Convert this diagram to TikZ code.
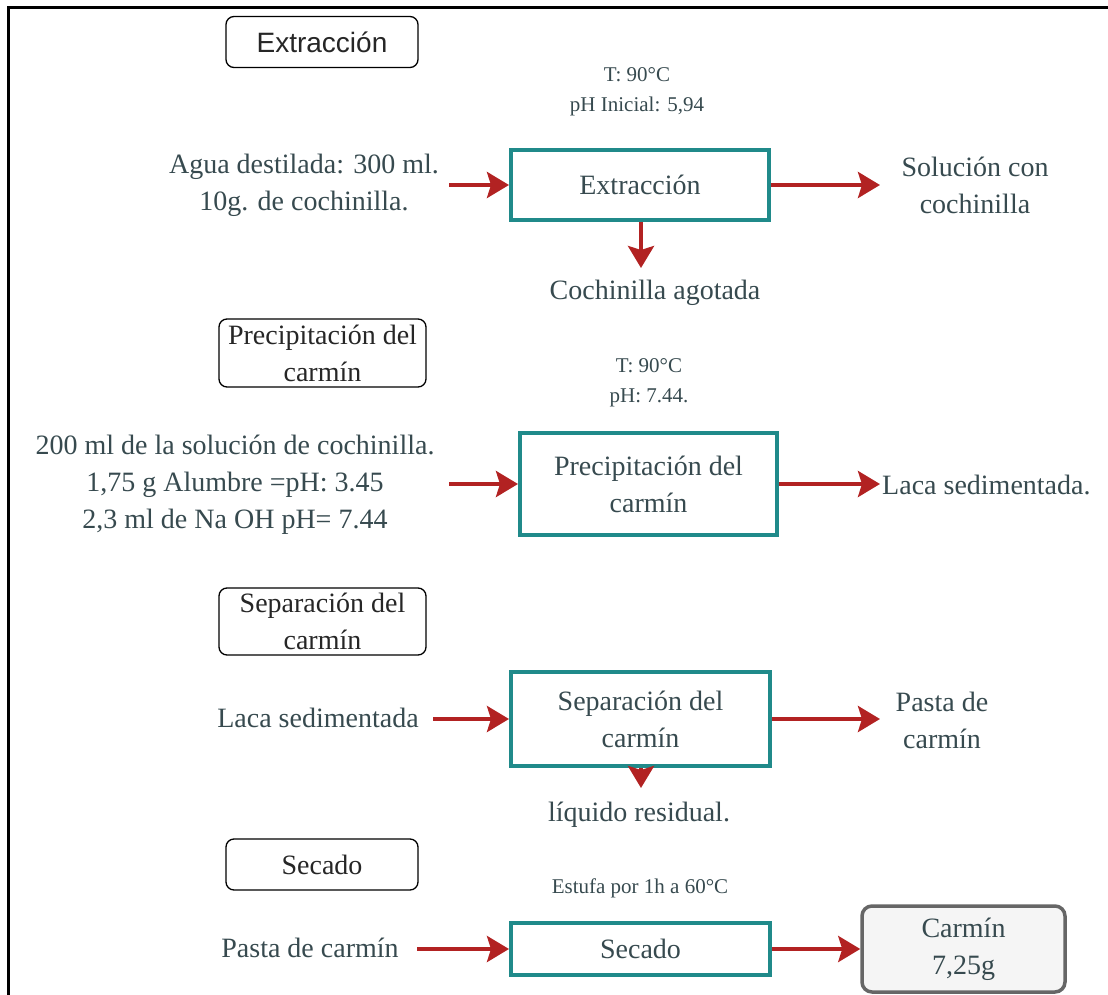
\documentclass[tikz,border=0pt]{standalone}
\usepackage{fontspec}
\setmainfont{Liberation Serif}
\newfontfamily\serifx{Liberation Serif}
\newfontfamily\sansf{Liberation Sans}
\usetikzlibrary{arrows.meta}
\definecolor{teal1}{HTML}{208A8A}
\definecolor{arrred}{HTML}{B22222}
\definecolor{txt}{HTML}{374A4F}
\definecolor{grayb}{HTML}{666666}
\definecolor{grayf}{HTML}{F5F5F5}
\tikzset{
  big/.style={font=\serifx\fontsize{28}{37}\selectfont},
  small/.style={font=\serifx\fontsize{21}{30}\selectfont},
  label/.style={big, text=txt, align=center, inner sep=0pt},
  note/.style={small, text=txt, align=center, inner sep=0pt},
  titlebox/.style={draw=black, line width=1.3pt, rounded corners=8pt, text=black!85, align=center, inner sep=0pt, big},
  procbox/.style={draw=teal1, line width=4pt, text=txt, align=center, inner sep=0pt, big},
  resultbox/.style={draw=grayb, fill=grayf, line width=3.5pt, rounded corners=10pt, text=txt, align=center, inner sep=0pt, big},
  arr/.style={draw=arrred, line width=4pt, -{Stealth[length=22pt,width=26pt,inset=4pt]}}
}
\begin{document}
\begin{tikzpicture}[x=1pt,y=1pt]
\useasboundingbox (0,0) rectangle (1108,-995);
\fill[white] (0,0) rectangle (1108,-995);
% frame (only top and left visible)
\draw[line width=3pt] (8,-1000) -- (8,-8) -- (1115,-8);

% section titles
\node[titlebox, minimum width=192pt, minimum height=51pt] (t1) at (322,-42) {\sansf Extracción};
\node[titlebox, minimum width=207pt, minimum height=68pt] (t2) at (322.5,-353) {Precipitación del\\carmín};
\node[titlebox, minimum width=207pt, minimum height=67pt] (t3) at (322.5,-621.5) {Separación del\\carmín};
\node[titlebox, minimum width=192pt, minimum height=51pt] (t4) at (322,-864.5) {Secado};

% process boxes
\node[procbox, minimum width=258pt, minimum height=70pt] (p1) at (640,-185) {Extracción};
\node[procbox, minimum width=257pt, minimum height=102pt] (p2) at (648.5,-484) {Precipitación del\\carmín};
\node[procbox, minimum width=259pt, minimum height=94pt] (p3) at (640.5,-719) {Separación del\\carmín};
\node[procbox, minimum width=259pt, minimum height=52pt] (p4) at (640.5,-949) {Secado};
\node[resultbox, minimum width=203pt, minimum height=86pt] (r) at (963.5,-949) {Carmín\\7,25g};

% notes
\node[note] (n1) at (637,-92) {T: 90°C\\pH Inicial: 5,94};
\node[note] (n2) at (649,-383) {T: 90°C\\pH: 7.44.};
\node[note] (n4) at (640,-888) {Estufa por 1h a 60°C};

% inputs
\node[label] (in1) at (304,-185) {Agua destilada: 300 ml.\\10g. de cochinilla.};
\node[label] (in2) at (235,-485) {200 ml de la solución de cochinilla.\\1,75 g Alumbre =pH: 3.45\\2,3 ml de Na OH pH= 7.44};
\node[label] (in3) at (318,-718) {Laca sedimentada};
\node[label] (in4) at (310,-948) {Pasta de carmín};

% outputs
\node[label] (o1) at (975,-185) {Solución con\\cochinilla};
\node[label, anchor=west] (o2) at (882,-485) {Laca sedimentada.};
\node[label] (o3) at (942,-720) {Pasta de\\carmín};
\node[label] (d1) at (655,-293) {Cochinilla agotada};
\node[label] (d3) at (639,-815) {líquido residual.};

% arrow ends
\coordinate (a1) at (449,-185);
\coordinate (a2) at (449,-484);
\coordinate (a3) at (433,-719);
\coordinate (a4) at (417,-949);
\coordinate (b1) at (880,-185);
\coordinate (b2) at (880,-484);
\coordinate (b3) at (880,-719);
\coordinate (c1) at (641,-268);
\coordinate (c3) at (641,-788);

\draw[arr] (a1) -- (p1.west);
\draw[arr] (a2) -- (p2.west);
\draw[arr] (a3) -- (p3.west);
\draw[arr] (a4) -- (p4.west);
\draw[arr] (p1.east) -- (b1);
\draw[arr] (p2.east) -- (b2);
\draw[arr] (p3.east) -- (b3);
\draw[arr] (p4.east) -- (r.west);
\draw[arr] (p1.south -| c1) -- (c1);
\draw[arr] (p3.south -| c3) -- (c3);
\end{tikzpicture}
\end{document}
